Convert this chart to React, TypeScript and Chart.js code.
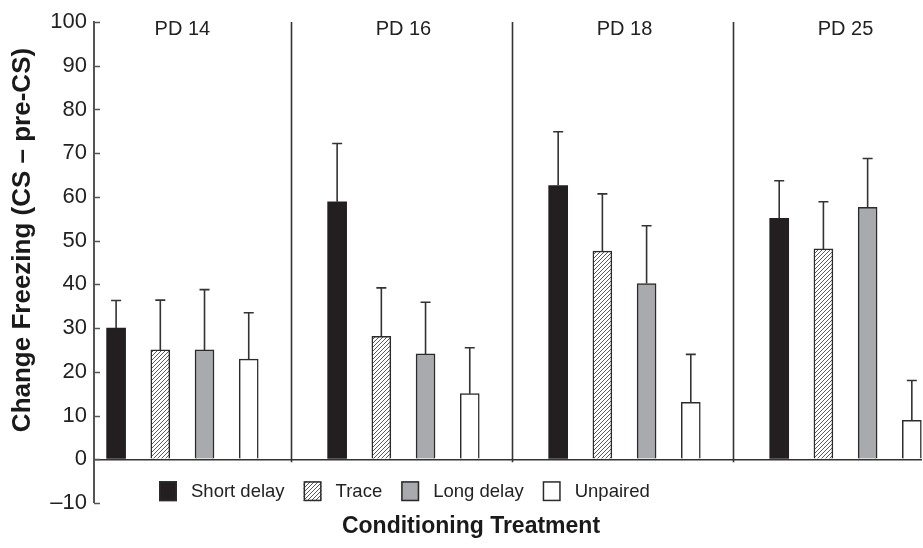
import React, { useEffect, useRef } from "react";
import { Chart, registerables } from "chart.js";

Chart.register(...registerables);

const groups = ["PD 14", "PD 16", "PD 18", "PD 25"];
const seriesNames = ["Short delay", "Trace", "Long delay", "Unpaired"];
const shortDelay = [30.0, 58.9, 62.6, 55.1];
const shortDelayErr = [6.3, 13.3, 12.3, 8.6];
const trace = [25.0, 28.1, 47.6, 48.1];
const traceErr = [11.4, 11.1, 13.1, 10.8];
const longDelay = [25.0, 24.1, 40.2, 57.6];
const longDelayErr = [13.8, 11.8, 13.2, 11.2];
const unpaired = [22.9, 15.0, 13.0, 8.9];
const unpairedErr = [10.6, 10.5, 11.0, 9.1];
const yMin = -10;
const yMax = 100;
const yStep = 10;
const xTitle = "Conditioning Treatment";
const yTitle = "Change Freezing (CS \u2013 pre-CS)";

const FONT = "'Liberation Sans', Arial, Helvetica, sans-serif";
const INK = "#2b2b2b";

function makeHatch(): CanvasPattern | string {
  const c = document.createElement("canvas");
  const s = 4;
  c.width = s;
  c.height = s;
  const g = c.getContext("2d");
  if (!g) return "#ddd";
  g.fillStyle = "#ffffff";
  g.fillRect(0, 0, s, s);
  g.strokeStyle = "#5a5a5a";
  g.lineWidth = 1;
  g.beginPath();
  g.moveTo(-1, s + 1);
  g.lineTo(s + 1, -1);
  g.moveTo(-1, 1);
  g.lineTo(1, -1);
  g.moveTo(s - 1, s + 1);
  g.lineTo(s + 1, s - 1);
  g.stroke();
  const p = g.createPattern(c, "repeat");
  return p || "#ddd";
}

export default function App() {
  const ref = useRef<HTMLCanvasElement | null>(null);

  useEffect(() => {
    if (!ref.current) return;
    const hatch = makeHatch();
    const values = [shortDelay, trace, longDelay, unpaired];
    const errs = [shortDelayErr, traceErr, longDelayErr, unpairedErr];
    const fills: any[] = ["#231f20", hatch, "#a9aaad", "#ffffff"];

    const datasets = values.map((vals, s) => ({
      label: seriesNames[s],
      data: vals.map((v, g) => ({ x: g * 5 + s, y: v })),
      backgroundColor: fills[s],
      borderColor: INK,
      borderWidth: s === 0 ? 0 : 1.5,
      barThickness: 19,
      grouped: false,
    }));

    const decor = {
      id: "decor",
      afterDatasetsDraw(chart: any) {
        const ctx = chart.ctx;
        const xs = chart.scales.x;
        const ys = chart.scales.y;
        const area = chart.chartArea;
        ctx.save();
        // group separators
        ctx.strokeStyle = "#333333";
        ctx.lineWidth = 1.6;
        for (let g = 1; g < groups.length; g++) {
          const x = Math.round(xs.getPixelForValue(g * 5 - 1.05)) + 0.5;
          ctx.beginPath();
          ctx.moveTo(x, ys.getPixelForValue(yMax));
          ctx.lineTo(x, ys.getPixelForValue(0) + 3);
          ctx.stroke();
        }
        // error bars
        ctx.strokeStyle = "#333333";
        ctx.lineWidth = 1.6;
        values.forEach((vals, s) => {
          vals.forEach((v, g) => {
            const x = xs.getPixelForValue(g * 5 + s);
            const y0 = ys.getPixelForValue(v);
            const y1 = ys.getPixelForValue(v + errs[s][g]);
            ctx.beginPath();
            ctx.moveTo(x, y0);
            ctx.lineTo(x, y1);
            ctx.moveTo(x - 5, y1);
            ctx.lineTo(x + 5, y1);
            ctx.stroke();
          });
        });
        // inward ticks on y axis
        ctx.strokeStyle = "#555555";
        ctx.lineWidth = 1.5;
        for (let v = yMin; v <= yMax; v += yStep) {
          const y = Math.round(ys.getPixelForValue(v)) + 0.5;
          ctx.beginPath();
          ctx.moveTo(area.left, y);
          ctx.lineTo(area.left + 6, y);
          ctx.stroke();
        }
        // group labels
        ctx.fillStyle = "#222222";
        ctx.font = `20px ${FONT}`;
        ctx.textAlign = "center";
        ctx.textBaseline = "middle";
        groups.forEach((lab, g) => {
          const x = xs.getPixelForValue(g * 5 + 1.5);
          ctx.fillText(lab, x, area.top + 7);
        });
        // legend
        ctx.font = `18.5px ${FONT}`;
        ctx.textAlign = "left";
        let lx = 159;
        const ly = ys.getPixelForValue(-7.3);
        seriesNames.forEach((name, s) => {
          ctx.fillStyle = fills[s];
          ctx.fillRect(lx, ly - 10, 18, 20);
          ctx.strokeStyle = INK;
          ctx.lineWidth = 1.5;
          ctx.strokeRect(lx + 0.75, ly - 9.25, 16.5, 18.5);
          ctx.fillStyle = "#222222";
          const tx = lx + 18 + 14;
          ctx.fillText(name, tx, ly + 1);
          lx = tx + ctx.measureText(name).width + 19;
        });
        // axis titles
        ctx.font = `bold 23px ${FONT}`;
        ctx.textAlign = "center";
        ctx.fillStyle = "#1a1a1a";
        ctx.fillText(xTitle, 471, 527);
        ctx.save();
        ctx.translate(23, 240);
        ctx.rotate(-Math.PI / 2);
        ctx.font = `bold 26px ${FONT}`;
        ctx.fillText(yTitle, 0, 0);
        ctx.restore();
        ctx.restore();
      },
    };

    const chart = new Chart(ref.current, {
      type: "bar",
      data: { datasets: datasets as any },
      options: {
        animation: false,
        responsive: false,
        maintainAspectRatio: false,
        layout: { padding: { top: 22, right: 1, left: 0, bottom: 0 } },
        plugins: {
          legend: { display: false },
          tooltip: { enabled: false },
        },
        scales: {
          x: {
            type: "linear",
            min: -0.5,
            max: 18.23,
            offset: false,
            bounds: "ticks",
            ticks: { display: false },
            grid: { display: false, offset: false },
            border: { display: false },
            afterFit: (s: any) => {
              s.height = 45;
            },
          },
          y: {
            min: yMin,
            max: yMax,
            ticks: {
              stepSize: yStep,
              padding: 7,
              color: "#222222",
              font: { family: FONT, size: 22 },
              callback: (v: any) => (Number(v) < 0 ? "\u2013" + Math.abs(Number(v)) : String(v)),
            },
            grid: {
              drawTicks: false,
              color: (c: any) => (c.tick && c.tick.value === 0 ? "#333333" : "rgba(0,0,0,0)"),
              lineWidth: (c: any) => (c.tick && c.tick.value === 0 ? 1.5 : 0),
            },
            border: { display: true, color: "#555555", width: 2 },
            afterFit: (s: any) => {
              s.width = 94;
            },
          },
        },
      },
      plugins: [decor],
    });
    return () => chart.destroy();
  }, []);

  return (
    <div style={{ position: "absolute", left: 0, top: 0, width: 923, height: 548, background: "#fff" }}>
      <canvas ref={ref} width={923} height={548} style={{ width: 923, height: 548, display: "block" }} />
    </div>
  );
}
